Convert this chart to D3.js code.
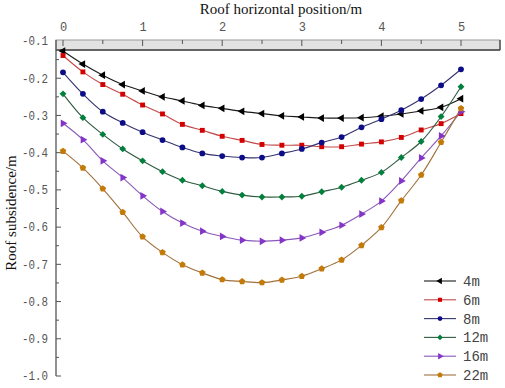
<!DOCTYPE html>
<html>
<head>
<meta charset="utf-8">
<script src="https://cdn.jsdelivr.net/npm/d3@7"></script>
<style>
  body { margin: 0; background: #fff; }
  svg { display: block; }
</style>
</head>
<body>
<svg id="chart"></svg>
<script>
// roof horizontal position (m), 21 points
const positions = [0, 0.25, 0.5, 0.75, 1, 1.25, 1.5, 1.75, 2, 2.25, 2.5,
  2.75, 3, 3.25, 3.5, 3.75, 4, 4.25, 4.5, 4.75, 5];

const seriesNames = ['4m', '6m', '8m', '12m', '16m', '22m'];

const s4m = [-0.127, -0.162, -0.192, -0.217, -0.234, -0.250, -0.261, -0.273, -0.281, -0.289, -0.295,
  -0.301, -0.304, -0.307, -0.307, -0.306, -0.302, -0.296, -0.288, -0.278, -0.255];
const s6m = [-0.139, -0.183, -0.217, -0.243, -0.272, -0.296, -0.324, -0.340, -0.356, -0.367, -0.378,
  -0.380, -0.380, -0.384, -0.384, -0.377, -0.371, -0.359, -0.339, -0.322, -0.295];
const s8m = [-0.184, -0.242, -0.290, -0.320, -0.345, -0.366, -0.386, -0.402, -0.409, -0.413, -0.413,
  -0.402, -0.390, -0.373, -0.358, -0.332, -0.310, -0.286, -0.256, -0.219, -0.176];
const s12m = [-0.242, -0.306, -0.351, -0.390, -0.422, -0.451, -0.474, -0.489, -0.504, -0.514, -0.519,
  -0.519, -0.517, -0.505, -0.493, -0.474, -0.453, -0.413, -0.370, -0.303, -0.223];
const s16m = [-0.321, -0.365, -0.422, -0.467, -0.516, -0.558, -0.589, -0.611, -0.625, -0.635, -0.638,
  -0.635, -0.629, -0.614, -0.595, -0.565, -0.530, -0.476, -0.414, -0.355, -0.290];
const s22m = [-0.396, -0.441, -0.497, -0.560, -0.626, -0.668, -0.701, -0.723, -0.741, -0.746, -0.749,
  -0.742, -0.732, -0.712, -0.688, -0.649, -0.601, -0.529, -0.460, -0.372, -0.281];

const seriesValues = [s4m, s6m, s8m, s12m, s16m, s22m];

const xTicks = [0, 1, 2, 3, 4, 5];
const yTicks = [-0.1, -0.2, -0.3, -0.4, -0.5, -0.6, -0.7, -0.8, -0.9, -1.0];
const yTickLabels = ['-0.1', '-0.2', '-0.3', '-0.4', '-0.5', '-0.6', '-0.7', '-0.8', '-0.9', '-1.0'];

// styles
const lineColors = ['#1a1a1a', '#c24848', '#343470', '#2e5a40', '#8a58b8', '#a0703a'];
const markColors = ['#000000', '#d40000', '#0c0c88', '#00803c', '#8434c8', '#c47a08'];

const pentagon = {
  draw(ctx, size) {
    const r = Math.sqrt(size / 2.38);
    for (let k = 0; k < 5; k++) {
      const a = -Math.PI / 2 + k * 2 * Math.PI / 5;
      if (k === 0) ctx.moveTo(r * Math.cos(a), r * Math.sin(a));
      else ctx.lineTo(r * Math.cos(a), r * Math.sin(a));
    }
    ctx.closePath();
  }
};
const symbols = [
  {type: d3.symbolTriangle, size: 26, rot: -90},
  {type: d3.symbolSquare, size: 24, rot: 0},
  {type: d3.symbolCircle, size: 26, rot: 0},
  {type: d3.symbolDiamond2, size: 30, rot: 0},
  {type: d3.symbolTriangle, size: 26, rot: 90},
  {type: pentagon, size: 28, rot: 0}
];

const W = 505, H = 388;
const svg = d3.select('#chart').attr('width', W).attr('height', H);

const x = d3.scaleLinear().domain([0, 5]).range([63, 461]);
const y = d3.scaleLinear().domain([-0.1, -1.0]).range([41, 376]);

const left = 56, right = 500, bandTop = 40, bandBottom = 50, bottom = 376;

// top band axis
svg.append('rect')
  .attr('x', left).attr('y', bandTop)
  .attr('width', right - left).attr('height', bandBottom - bandTop)
  .attr('fill', '#e2e2e2').attr('stroke', '#9a9a9a').attr('stroke-width', 1);
svg.append('line')
  .attr('x1', left).attr('x2', right).attr('y1', bandBottom).attr('y2', bandBottom)
  .attr('stroke', '#444').attr('stroke-width', 1.3);
svg.append('line')
  .attr('x1', right).attr('x2', right).attr('y1', bandTop).attr('y2', bandBottom)
  .attr('stroke', '#444').attr('stroke-width', 1.3);

const xAxis = d3.axisTop(x).tickValues(xTicks).tickSize(0).tickPadding(0).tickFormat(d3.format('d'));
const xAxisG = svg.append('g').attr('transform', `translate(0,${bandTop - 9})`).call(xAxis);
xAxisG.select('.domain').remove();
xAxisG.selectAll('text')
  .attr('font-family', '"Liberation Mono", monospace').attr('font-size', 12).attr('fill', '#555');

const xMinor = d3.range(0, 5.01, 0.5);
svg.append('g').selectAll('line').data(xMinor).join('line')
  .attr('x1', d => x(d)).attr('x2', d => x(d))
  .attr('y1', bandTop).attr('y2', d => Number.isInteger(d) ? bandTop + 6 : bandTop + 4)
  .attr('stroke', '#555').attr('stroke-width', 1);

// left axis
const yAxis = d3.axisLeft(y).tickValues(yTicks).tickSize(0).tickPadding(8)
  .tickFormat((d, i) => yTickLabels[i]);
const yAxisG = svg.append('g').attr('transform', `translate(${left},0)`).call(yAxis);
yAxisG.select('.domain').remove();
yAxisG.selectAll('text')
  .attr('font-family', '"Liberation Mono", monospace').attr('font-size', 12).attr('fill', '#555')
  .attr('textLength', 26).attr('lengthAdjust', 'spacingAndGlyphs');

svg.append('line')
  .attr('x1', left).attr('x2', left).attr('y1', bandTop).attr('y2', bottom)
  .attr('stroke', '#555').attr('stroke-width', 1.3);
const yMinor = d3.range(-0.15, -1.0, -0.1);
svg.append('g').selectAll('line').data(yTicks.slice(1)).join('line')
  .attr('x1', left).attr('x2', left + 5)
  .attr('y1', d => y(d)).attr('y2', d => y(d))
  .attr('stroke', '#555').attr('stroke-width', 1);
svg.append('g').selectAll('line').data(yMinor).join('line')
  .attr('x1', left).attr('x2', left + 3)
  .attr('y1', d => y(d)).attr('y2', d => y(d))
  .attr('stroke', '#555').attr('stroke-width', 1);

// titles
svg.append('text')
  .attr('x', 281).attr('y', 14).attr('text-anchor', 'middle')
  .attr('font-family', '"Liberation Serif", serif').attr('font-size', 15).attr('fill', '#111')
  .text('Roof horizontal position/m');
svg.append('text')
  .attr('transform', 'translate(16,213) rotate(-90)').attr('text-anchor', 'middle')
  .attr('font-family', '"Liberation Serif", serif').attr('font-size', 15).attr('fill', '#111')
  .text('Roof subsidence/m');

// series
const line = d3.line()
  .x((d, i) => x(positions[i]))
  .y(d => y(d))
  .curve(d3.curveCatmullRom);

const plot = svg.append('g');
seriesValues.forEach((vals, si) => {
  plot.append('path')
    .attr('d', line(vals))
    .attr('fill', 'none')
    .attr('stroke', lineColors[si])
    .attr('stroke-width', 1.1);
});
seriesValues.forEach((vals, si) => {
  const sym = d3.symbol().type(symbols[si].type).size(symbols[si].size);
  plot.append('g').selectAll('path').data(vals).join('path')
    .attr('d', sym)
    .attr('transform', (d, i) => `translate(${x(positions[i])},${y(d)}) rotate(${symbols[si].rot})`)
    .attr('fill', markColors[si]);
});

// legend
const legend = svg.append('g');
seriesNames.forEach((name, si) => {
  const ly = 281 + si * 18.8;
  legend.append('line')
    .attr('x1', 424).attr('x2', 456).attr('y1', ly).attr('y2', ly)
    .attr('stroke', lineColors[si]).attr('stroke-width', 1.1);
  legend.append('path')
    .attr('d', d3.symbol().type(symbols[si].type).size(symbols[si].size * 0.7))
    .attr('transform', `translate(440,${ly}) rotate(${symbols[si].rot})`)
    .attr('fill', markColors[si]);
  legend.append('text')
    .attr('x', 463).attr('y', ly + 5)
    .attr('font-family', '"Liberation Mono", monospace').attr('font-size', 14).attr('fill', '#444')
    .text(name);
});
</script>
</body>
</html>
